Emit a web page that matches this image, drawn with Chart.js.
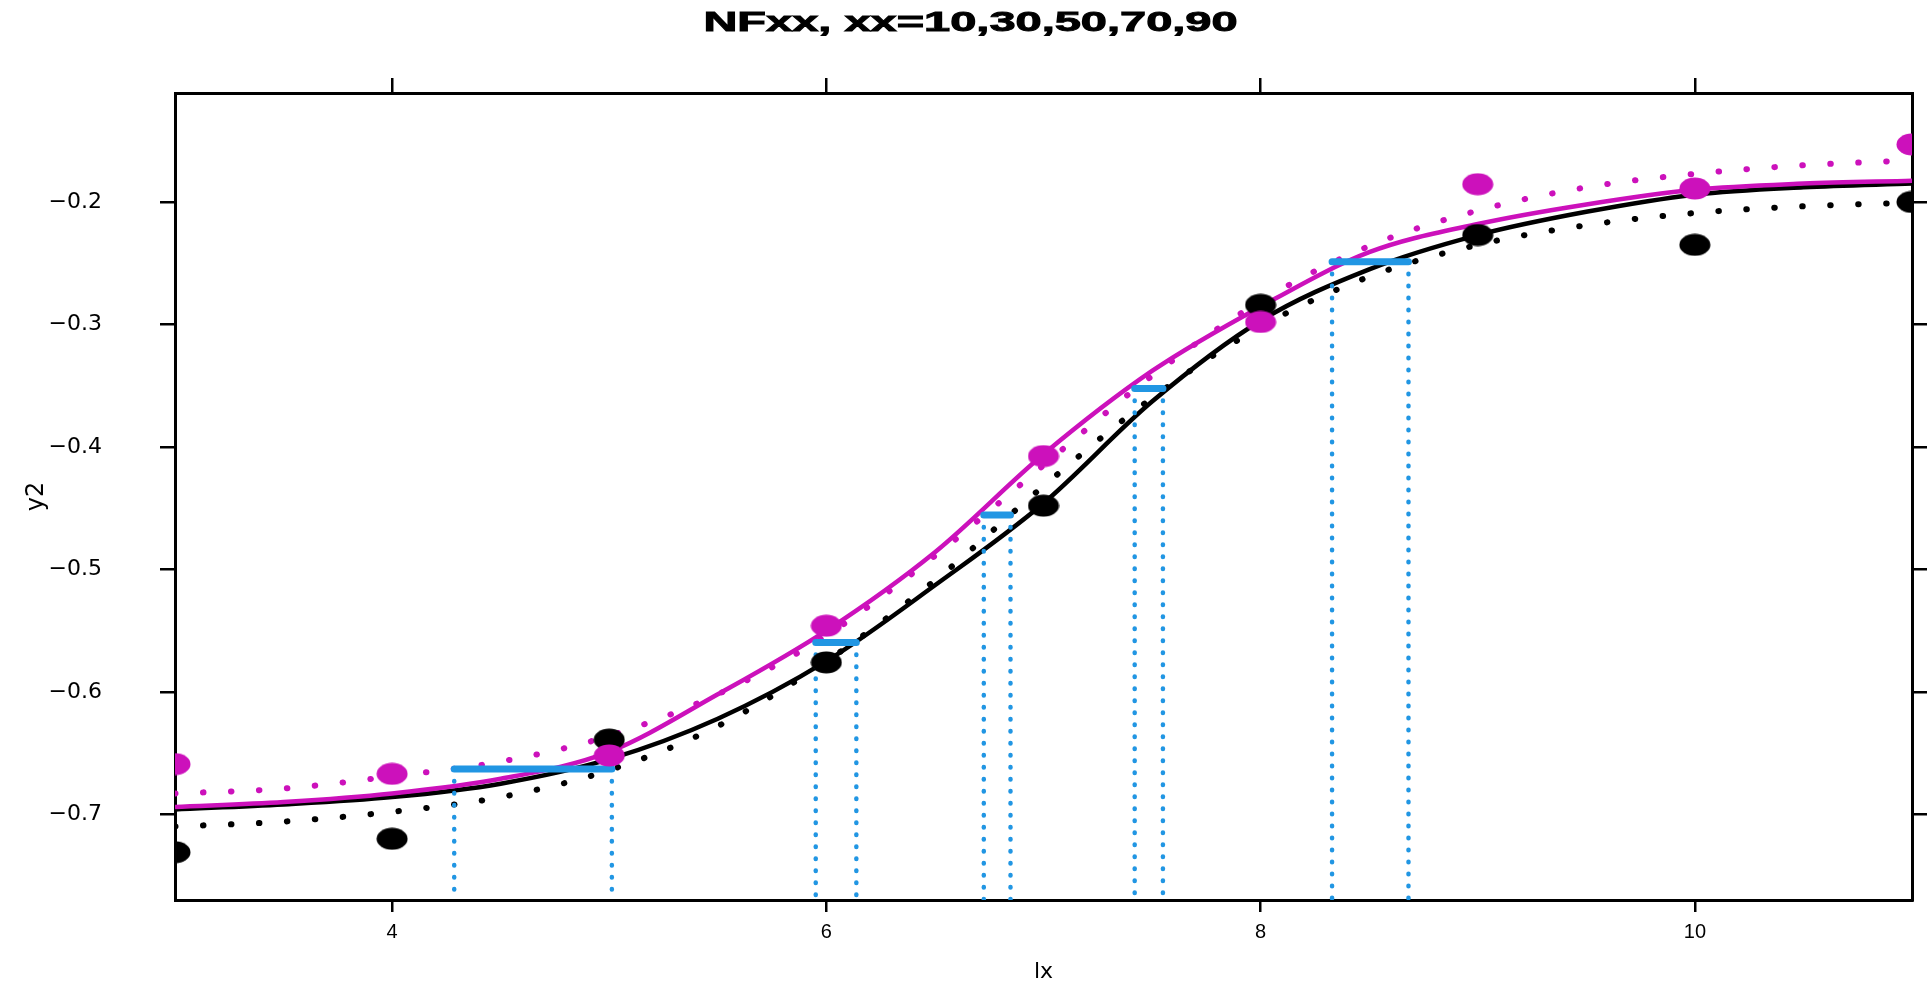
<!DOCTYPE html>
<html>
<head>
<meta charset="utf-8">
<script src="https://cdn.jsdelivr.net/npm/chart.js@4.4.1/dist/chart.umd.min.js"></script>
<style>
  html, body { margin: 0; padding: 0; background: #fff; }
  #wrap { width: 1931px; height: 986px; position: relative; }
</style>
</head>
<body>
<div id="wrap"><canvas id="nfChart"></canvas></div>
<script>
// data
const titleText = 'NFxx, xx=10,30,50,70,90';
const xTicks = [4, 6, 8, 10];
const yTicks = [-0.7, -0.6, -0.5, -0.4, -0.3, -0.2];
const xMin = 3, xMax = 11, yMin = -0.770, yMax = -0.111;

const pointX = [3, 4, 5, 6, 7, 8, 9, 10, 11];
const blackPts = [-0.731, -0.720, -0.639, -0.576, -0.448, -0.284, -0.227, -0.235, -0.200];
const magentaPts = [-0.659, -0.667, -0.652, -0.546, -0.4075, -0.298, -0.1855, -0.189, -0.153];

const curveX = [3, 3.5, 4, 4.5, 5, 5.5, 6, 6.5, 7, 7.5, 8, 8.5, 9, 9.5, 10, 10.5, 11];
const solidBlack = [-0.696, -0.692, -0.686, -0.675, -0.655, -0.622, -0.575, -0.513, -0.446, -0.363, -0.297, -0.255, -0.227, -0.208, -0.194, -0.188, -0.185];
const solidMagenta = [-0.694, -0.690, -0.683, -0.671, -0.649, -0.602, -0.550, -0.486, -0.406, -0.338, -0.2855, -0.241, -0.218, -0.202, -0.190, -0.185, -0.1826];
const dottedBlack = [-0.710, -0.706, -0.698, -0.686, -0.664, -0.628, -0.575, -0.509, -0.432, -0.360, -0.302, -0.261, -0.235, -0.219, -0.209, -0.2035, -0.2005];
const dottedMagenta = [-0.683, -0.679, -0.669, -0.657, -0.636, -0.602, -0.554, -0.489, -0.415, -0.342, -0.281, -0.236, -0.207, -0.188, -0.177, -0.170, -0.166];

// quantile segments (10,30,50,70,90)
const qY = [-0.663, -0.5597, -0.4557, -0.3523, -0.2487];
const qLo = [4.286, 5.951, 6.725, 7.42, 8.329];
const qHi = [5.012, 6.138, 6.848, 7.55, 8.681];

const BLACK = '#000000';
const MAGENTA = '#cc11bb';
const BLUE = '#2196e3';

function ellipse(color) {
    const c = document.createElement('canvas');
    c.width = 32; c.height = 23;
    const g = c.getContext('2d');
    g.fillStyle = color;
    g.beginPath();
    g.ellipse(16, 11.5, 15.5, 11, 0, 0, Math.PI * 2);
    g.fill();
    return c;
}

const pts = (xs, ys) => xs.map((x, i) => ({ x: x, y: ys[i] }));

const segData = [];
const vertData = [];
qY.forEach((y, i) => {
    segData.push({ x: qLo[i], y: y }, { x: qHi[i], y: y }, { x: qHi[i], y: null });
    vertData.push({ x: qLo[i], y: y }, { x: qLo[i], y: yMin }, { x: qLo[i], y: null });
    vertData.push({ x: qHi[i], y: y }, { x: qHi[i], y: yMin }, { x: qHi[i], y: null });
});

const wideTitle = {
    id: 'wideTitle',
    afterDraw(chart) {
        const ctx = chart.ctx;
        ctx.save();
        ctx.font = 'bold 27px "Liberation Sans", Arial, sans-serif';
        ctx.fillStyle = BLACK;
        ctx.strokeStyle = BLACK;
        ctx.lineWidth = 0.9;
        ctx.textAlign = 'center';
        ctx.textBaseline = 'alphabetic';
        ctx.translate(chart.width / 2 + 5, 31);
        ctx.scale(1.74, 1);
        ctx.fillText(titleText, 0, 0);
        ctx.strokeText(titleText, 0, 0);
        ctx.restore();
    }
};

const lineBase = { type: 'line', pointRadius: 0, clip: 0, fill: false, spanGaps: false };

const axisGrid = { drawOnChartArea: false, color: BLACK, lineWidth: 2.5, tickLength: 15 };
const axisBorder = { color: BLACK, width: 3 };

new Chart(document.getElementById('nfChart'), {
    type: 'scatter',
    data: {
        datasets: [
            { type: 'scatter', data: pts(pointX, magentaPts), pointStyle: ellipse(MAGENTA), clip: 0 },
            { type: 'scatter', data: pts(pointX, blackPts), pointStyle: ellipse(BLACK), clip: 0 },
            { ...lineBase, data: segData, borderColor: BLUE, borderWidth: 7, borderCapStyle: 'round', tension: 0 },
            { ...lineBase, data: vertData, borderColor: BLUE, borderWidth: 4.5, borderCapStyle: 'round', borderDash: [0.5, 11.5], tension: 0 },
            { ...lineBase, data: pts(curveX, solidMagenta), borderColor: MAGENTA, borderWidth: 4.5, cubicInterpolationMode: 'monotone' },
            { ...lineBase, data: pts(curveX, solidBlack), borderColor: BLACK, borderWidth: 4.5, cubicInterpolationMode: 'monotone' },
            { ...lineBase, data: pts(curveX, dottedMagenta), borderColor: MAGENTA, borderWidth: 6, borderCapStyle: 'round', borderDash: [0.5, 27.5], cubicInterpolationMode: 'monotone' },
            { ...lineBase, data: pts(curveX, dottedBlack), borderColor: BLACK, borderWidth: 6, borderCapStyle: 'round', borderDash: [0.5, 27.5], cubicInterpolationMode: 'monotone' }
        ]
    },
    options: {
        responsive: true,
        maintainAspectRatio: false,
        animation: false,
        layout: { padding: 0 },
        plugins: { legend: { display: false }, tooltip: { enabled: false }, title: { display: false } },
        scales: {
            x: {
                type: 'linear', position: 'bottom', min: xMin, max: xMax,
                afterBuildTicks: s => { s.ticks = xTicks.map(v => ({ value: v })); },
                afterFit: s => { s.height = 86; },
                grid: { ...axisGrid, tickLength: 12 }, border: axisBorder,
                ticks: { color: BLACK, padding: 8, font: { family: '"Liberation Sans", Arial, sans-serif', size: 20 }, maxRotation: 0, callback: v => String(v) },
                title: { display: true, text: 'lx', color: BLACK, padding: { top: 0, bottom: 1 }, font: { family: '"DejaVu Sans", sans-serif', size: 22 } }
            },
            x2: {
                type: 'linear', position: 'top', min: xMin, max: xMax,
                afterBuildTicks: s => { s.ticks = xTicks.map(v => ({ value: v })); },
                afterFit: s => { s.height = 93; },
                grid: axisGrid, border: axisBorder,
                ticks: { display: false }
            },
            y: {
                type: 'linear', position: 'left', min: yMin, max: yMax,
                afterBuildTicks: s => { s.ticks = yTicks.map(v => ({ value: v })); },
                afterFit: s => { s.width = 175; },
                grid: axisGrid, border: axisBorder,
                ticks: { color: BLACK, padding: 58, font: { family: '"DejaVu Sans", sans-serif', size: 22 }, callback: v => '\u2212' + Math.abs(v).toFixed(1) },
                title: { display: true, text: 'y2', color: BLACK, padding: { top: 22, bottom: 0 }, font: { family: '"DejaVu Sans", sans-serif', size: 24 } }
            },
            y2: {
                type: 'linear', position: 'right', min: yMin, max: yMax,
                afterBuildTicks: s => { s.ticks = yTicks.map(v => ({ value: v })); },
                afterFit: s => { s.width = 19; },
                grid: axisGrid, border: axisBorder,
                ticks: { display: false }
            }
        }
    },
    plugins: [wideTitle]
});
</script>
</body>
</html>
